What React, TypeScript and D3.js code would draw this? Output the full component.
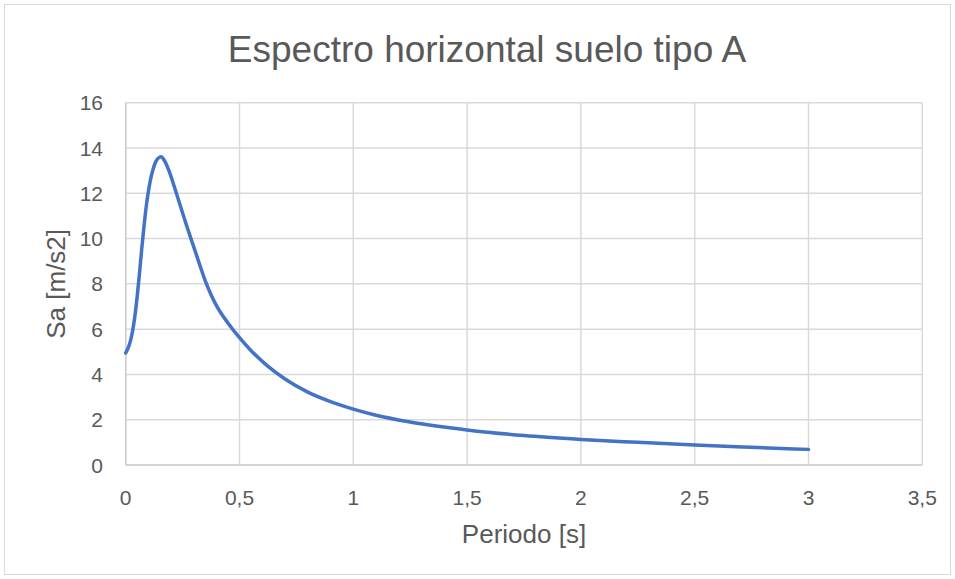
import React from "react";
import * as d3 from "d3";

const periods = [0, 0.01, 0.02, 0.03, 0.04, 0.05, 0.06, 0.07, 0.08, 0.09, 0.1, 0.11, 0.12, 0.13, 0.14, 0.155, 0.17, 0.19, 0.21, 0.24, 0.27, 0.3, 0.325, 0.35, 0.375, 0.4, 0.45, 0.5, 0.55, 0.62, 0.7, 0.8, 0.9, 1.0, 1.1, 1.25, 1.5, 1.75, 2.0, 2.25, 2.5, 2.75, 3.0];
const saValues = [4.95, 5.15, 5.45, 5.9, 6.55, 7.4, 8.4, 9.5, 10.5, 11.4, 12.1, 12.65, 13.05, 13.35, 13.52, 13.61, 13.45, 13.0, 12.4, 11.45, 10.5, 9.6, 8.85, 8.12, 7.52, 7.02, 6.26, 5.62, 5.06, 4.4, 3.8, 3.22, 2.8, 2.47, 2.2, 1.9, 1.55, 1.3, 1.13, 1.0, 0.88, 0.78, 0.69];
const xTicks = [0, 0.5, 1, 1.5, 2, 2.5, 3, 3.5];
const yTicks = [0, 2, 4, 6, 8, 10, 12, 14, 16];
const title = "Espectro horizontal suelo tipo A";
const xTitle = "Periodo [s]";
const yTitle = "Sa [m/s2]";

const W = 955;
const H = 579;
const FONT = "'Liberation Sans', Arial, sans-serif";
const TEXT = "#595959";
const GRID = "#d9d9d9";

export default function App() {
  const x = d3.scaleLinear().domain([0, 3.5]).range([125.7, 922.3]);
  const y = d3.scaleLinear().domain([0, 16]).range([465, 102.7]);
  const pts = periods.map((t, i) => [t, saValues[i]] as [number, number]);
  const line = d3
    .line<[number, number]>()
    .x((d) => x(d[0]))
    .y((d) => y(d[1]))
    .curve(d3.curveMonotoneX);
  const fmt = (v: number) => String(v).replace(".", ",");
  const [x0, x1] = x.range();
  const [y0, y1] = y.range();
  return (
    <div style={{ position: "fixed", left: 0, top: 0 }}>
      <svg width={W} height={H} style={{ display: "block", background: "#fff" }}>
        <rect x={4.5} y={4.5} width={946} height={570} fill="#fff" stroke={GRID} strokeWidth={1} />
        {yTicks.map((t) => (
          <line key={"gy" + t} x1={x0} x2={x1} y1={y(t)} y2={y(t)} stroke={GRID} strokeWidth={1.5} />
        ))}
        {xTicks.map((t) => (
          <line key={"gx" + t} x1={x(t)} x2={x(t)} y1={y0} y2={y1} stroke={GRID} strokeWidth={1.5} />
        ))}
        <line x1={x0} x2={x1} y1={y0} y2={y0} stroke="#cfcfcf" strokeWidth={1.5} />
        <line x1={x0} x2={x0} y1={y0} y2={y1} stroke="#cfcfcf" strokeWidth={1.5} />
        <path d={line(pts) || ""} fill="none" stroke="#4472C4" strokeWidth={3.5} strokeLinejoin="round" strokeLinecap="round" />
        {yTicks.map((t) => (
          <text key={"ty" + t} x={103} y={y(t)} dy="0.36em" textAnchor="end" fontFamily={FONT} fontSize={21} fill={TEXT}>
            {fmt(t)}
          </text>
        ))}
        {xTicks.map((t) => (
          <text key={"tx" + t} x={x(t)} y={505} textAnchor="middle" fontFamily={FONT} fontSize={21} fill={TEXT}>
            {fmt(t)}
          </text>
        ))}
        <text x={487} y={62} textAnchor="middle" fontFamily={FONT} fontSize={37} fill={TEXT}>
          {title}
        </text>
        <text x={(x0 + x1) / 2} y={543} textAnchor="middle" fontFamily={FONT} fontSize={26} fill={TEXT}>
          {xTitle}
        </text>
        <text
          transform={`translate(65, ${(y0 + y1) / 2}) rotate(-90)`}
          textAnchor="middle"
          fontFamily={FONT}
          fontSize={26}
          fill={TEXT}
        >
          {yTitle}
        </text>
      </svg>
    </div>
  );
}
